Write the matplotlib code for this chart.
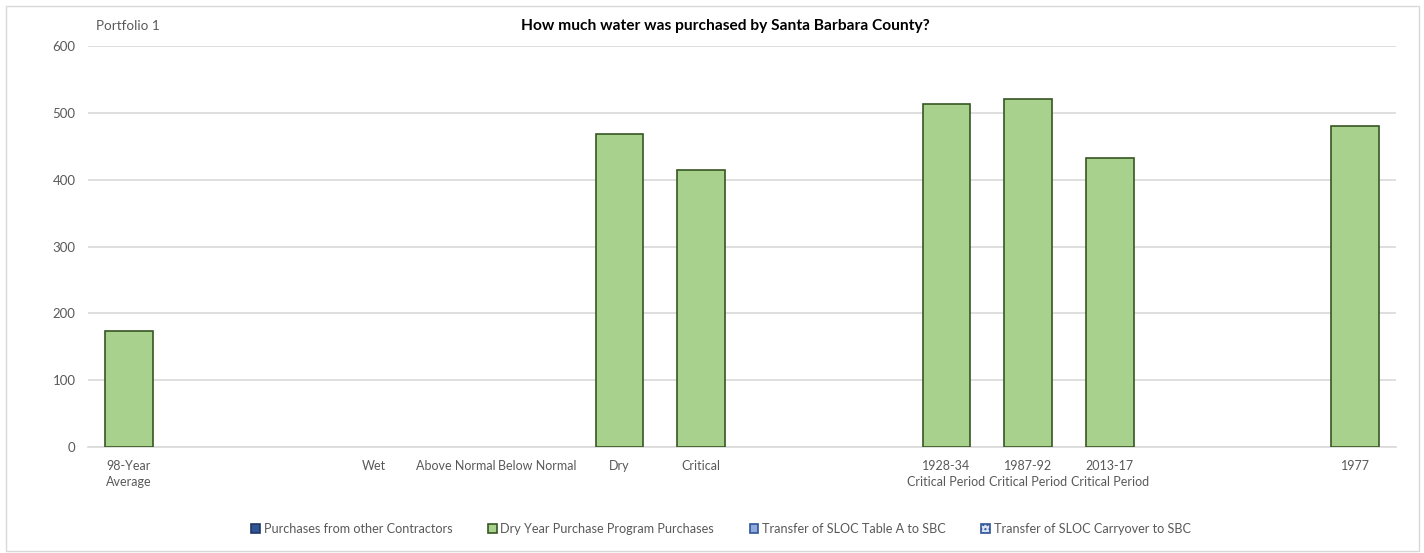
import matplotlib
matplotlib.use('Agg')
import matplotlib.pyplot as plt
import numpy as np

categories = ['98-Year\nAverage', '', '', 'Wet', 'Above Normal', 'Below Normal', 'Dry', 'Critical',
              '', '', '1928-34\nCritical Period', '1987-92\nCritical Period', '2013-17\nCritical Period',
              '', '', '1977']
other_contractors = [0, 0, 0, 0, 0, 0, 0, 0, 0, 0, 0, 0, 0, 0, 0, 0]
dry_year_purchases = [174, 0, 0, 0, 0, 0, 469, 415, 0, 0, 513, 521, 432, 0, 0, 480]
sloc_table_a = [0, 0, 0, 0, 0, 0, 0, 0, 0, 0, 0, 0, 0, 0, 0, 0]
sloc_carryover = [0, 0, 0, 0, 0, 0, 0, 0, 0, 0, 0, 0, 0, 0, 0, 0]

series = [
    ('Purchases from other Contractors', other_contractors, '#2F5597', '#1F3864', None),
    ('Dry Year Purchase Program Purchases', dry_year_purchases, '#A9D18E', '#375623', None),
    ('Transfer of SLOC Table A to SBC', sloc_table_a, '#8FAADC', '#2F5597', None),
    ('Transfer of SLOC Carryover to SBC', sloc_carryover, '#DAE3F3', '#2F5597', '....'),
]

plt.rcParams['font.family'] = ['Lato', 'DejaVu Sans']
grey = '#595959'

fig = plt.figure(figsize=(14.24, 5.53), dpi=100)
ax = fig.add_axes([88 / 1424, 1 - 447 / 553, (1396 - 88) / 1424, (447 - 46) / 553])

x = np.arange(len(categories))
bottom = np.zeros(len(categories))
for name, vals, fc, ec, hatch in series:
    v = np.array(vals, dtype=float)
    shown = np.where(v > 0, v, np.nan)
    ax.bar(x, shown, width=0.58, bottom=bottom, color=fc, edgecolor=ec, linewidth=1.2,
           hatch=hatch, label=name, zorder=3)
    bottom = bottom + v

ax.set_xlim(-0.5, len(categories) - 0.5)
ax.set_ylim(0, 600)
ax.set_yticks(range(0, 601, 100))
ax.yaxis.grid(True, color='#D9D9D9', linewidth=1.2, zorder=0)
ax.set_xticks(x)
ax.set_xticklabels(categories, fontsize=9, color=grey, linespacing=1.45)
ax.tick_params(axis='y', labelsize=9.5, labelcolor=grey, length=0, pad=9)
ax.tick_params(axis='x', length=0, pad=9)
for s in ['top', 'right', 'left']:
    ax.spines[s].set_visible(False)
ax.spines['bottom'].set_color('#D9D9D9')
ax.spines['bottom'].set_linewidth(1.2)

fig.text(96 / 1424, 1 - 26 / 553, 'Portfolio 1', fontsize=9.7, color=grey, va='center', ha='left')
fig.text(725 / 1424, 1 - 26 / 553, 'How much water was purchased by Santa Barbara County?',
         fontsize=11.2, fontweight='bold', color='black', va='center', ha='center')

fig.legend(loc='center', bbox_to_anchor=(721 / 1424, 1 - 529 / 553), ncol=4, frameon=False,
           fontsize=9.1, labelcolor=grey, handlelength=0.7, handleheight=0.8, handletextpad=0.3,
           columnspacing=2.8)

fig.patches.append(plt.Rectangle((6 / 1424, 2 / 553), 1413 / 1424, 545 / 553, transform=fig.transFigure,
                                 fill=False, edgecolor='#D9D9D9', linewidth=1))

fig.savefig('out.png', dpi=100)
